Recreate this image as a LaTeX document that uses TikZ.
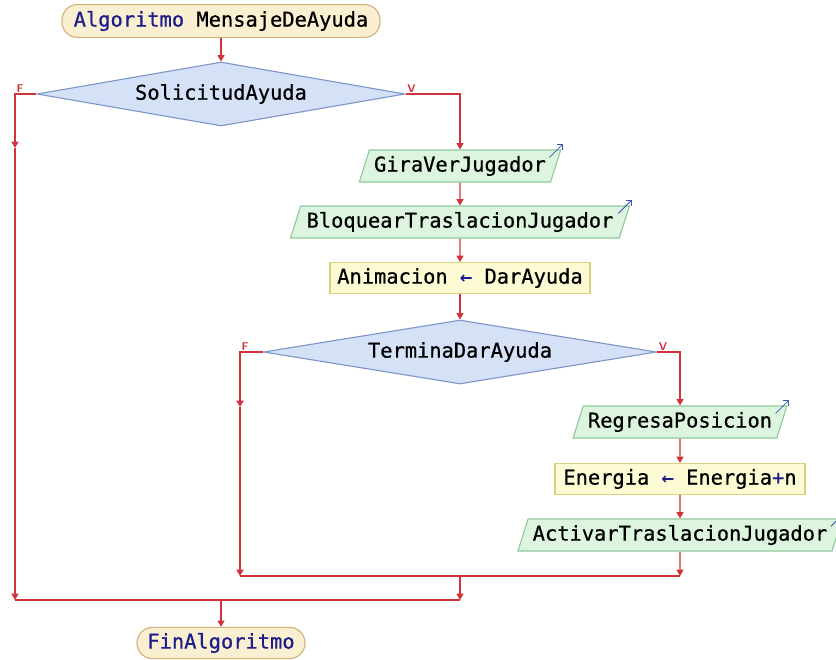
\documentclass[tikz,border=0pt]{standalone}
\usepackage{fontspec}
\newfontfamily\fuente[FakeBold=0.7]{DejaVu Sans Mono}
\usetikzlibrary{shapes.geometric,arrows.meta}
\definecolor{linea}{HTML}{D0343A}
\definecolor{clave}{HTML}{1C1C8A}
\definecolor{termfill}{HTML}{FBEFD2}
\definecolor{termborde}{HTML}{D2B27A}
\definecolor{decfill}{HTML}{D5E1F7}
\definecolor{decborde}{HTML}{7E97C9}
\definecolor{esfill}{HTML}{DDF5DF}
\definecolor{esborde}{HTML}{90C99B}
\definecolor{asigfill}{HTML}{FDFBD3}
\definecolor{asigborde}{HTML}{D9D27C}
\definecolor{icoazul}{HTML}{3A55B0}

\begin{document}
\begin{tikzpicture}[>={Triangle[length=4.5pt,width=5pt]},
    texto/.style={font=\fuente\fontsize{14.5}{17}\selectfont},
    terminal/.style={texto, draw=termborde, fill=termfill, rounded corners=11pt, minimum height=0.82cm, line width=0.8pt},
    decision/.style={texto, diamond, draw=decborde, fill=decfill, aspect=5.75, minimum height=1.6cm, line width=0.8pt},
    entrada/.style={texto, trapezium, trapezium left angle=71, trapezium right angle=109, trapezium stretches=true, draw=esborde, fill=esfill, minimum height=0.8cm, line width=0.8pt},
    asignar/.style={texto, rectangle, draw=asigborde, fill=asigfill, minimum height=0.77cm, line width=0.8pt},
    flujo/.style={draw=linea, line width=0.9pt},
    etiq/.style={text=linea, font=\sffamily\bfseries\fontsize{8}{9}\selectfont, inner sep=1pt},
    icono/.style={-{Straight Barb[length=2.5pt]}, draw=icoazul, line width=0.6pt}]
    \useasboundingbox (0,0) rectangle (20.9,-16.475);

    % Inicio y primera decision
    \node[terminal, minimum width=7.95cm] (inicio) at (5.525,-0.525) {\textcolor{clave}{Algoritmo} MensajeDeAyuda};
    \node[decision, minimum width=9.2cm] (solicitud) at (5.525,-2.35) {SolicitudAyuda};

    % Rama verdadera
    \node[entrada, minimum width=5cm] (gira) at (11.5,-4.15) {GiraVerJugador};
    \node[entrada, minimum width=8.5cm] (bloquear) at (11.5,-5.55) {BloquearTraslacionJugador};
    \node[asignar, minimum width=6.5cm] (animacion) at (11.5,-6.95) {Animacion \textcolor{clave}{←} DarAyuda};
    \node[decision, minimum width=9.825cm] (termina) at (11.5,-8.8) {TerminaDarAyuda};
    \node[entrada, minimum width=5.35cm] (regresa) at (17,-10.55) {RegresaPosicion};
    \node[asignar, minimum width=6.25cm] (energia) at (17,-11.975) {Energia \textcolor{clave}{←} Energia\textcolor{clave}{+}n};
    \node[entrada, minimum width=7.85cm] (activar) at (17,-13.375) {ActivarTraslacionJugador};

    % Fin
    \node[terminal, minimum width=4.2cm, minimum height=0.78cm] (fin) at (5.525,-16.075) {\textcolor{clave}{FinAlgoritmo}};

    % Puntos de paso
    \coordinate (f1) at (0.375,-3.7);
    \coordinate (unionIzq) at (0.375,-15);
    \coordinate (unionDer) at (11.5,-15);
    \coordinate (unionFin) at (5.525,-15);
    \coordinate (f2) at (6,-10.175);
    \coordinate (cierreIzq) at (6,-14.4);
    \coordinate (cierreDer) at (17,-14.4);
    \coordinate (cierreMed) at (11.5,-14.4);

    % Etiquetas F / V
    \node[etiq, above right] (fSol) at (f1 |- solicitud) {F};
    \node[etiq, above right] (vSol) at (solicitud.east) {V};
    \node[etiq, above right] (fTer) at (f2 |- termina) {F};
    \node[etiq, above right] (vTer) at (termina.east) {V};

    % Flechas de salida
    \draw[icono] ([shift={(-0.3,-0.2)}]gira.top right corner) -- ++(0.33,0.33);
    \draw[icono] ([shift={(-0.3,-0.2)}]bloquear.top right corner) -- ++(0.33,0.33);
    \draw[icono] ([shift={(-0.3,-0.2)}]regresa.top right corner) -- ++(0.33,0.33);
    \draw[icono] ([shift={(-0.3,-0.2)}]activar.top right corner) -- ++(0.33,0.33);

    % Conexiones
    \draw[flujo,->] (inicio) -- (solicitud);
    \draw[flujo,->] (solicitud.west) -| (f1);
    \draw[flujo,->] (f1) -- (unionIzq);
    \draw[flujo,->] (solicitud.east) -| (gira);
    \draw[flujo,->] (gira) -- (bloquear);
    \draw[flujo,->] (bloquear) -- (animacion);
    \draw[flujo,->] (animacion) -- (termina);
    \draw[flujo,->] (termina.west) -| (f2);
    \draw[flujo,->] (f2) -- (cierreIzq);
    \draw[flujo,->] (termina.east) -| (regresa);
    \draw[flujo,->] (regresa) -- (energia);
    \draw[flujo,->] (energia) -- (activar);
    \draw[flujo,->] (activar) -- (cierreDer);
    \draw[flujo] (cierreDer) -- (cierreIzq);
    \draw[flujo,->] (cierreMed) -- (unionDer);
    \draw[flujo] (unionIzq) -- (unionDer);
    \draw[flujo,->] (unionFin) -- (fin);
\end{tikzpicture}
\end{document}
